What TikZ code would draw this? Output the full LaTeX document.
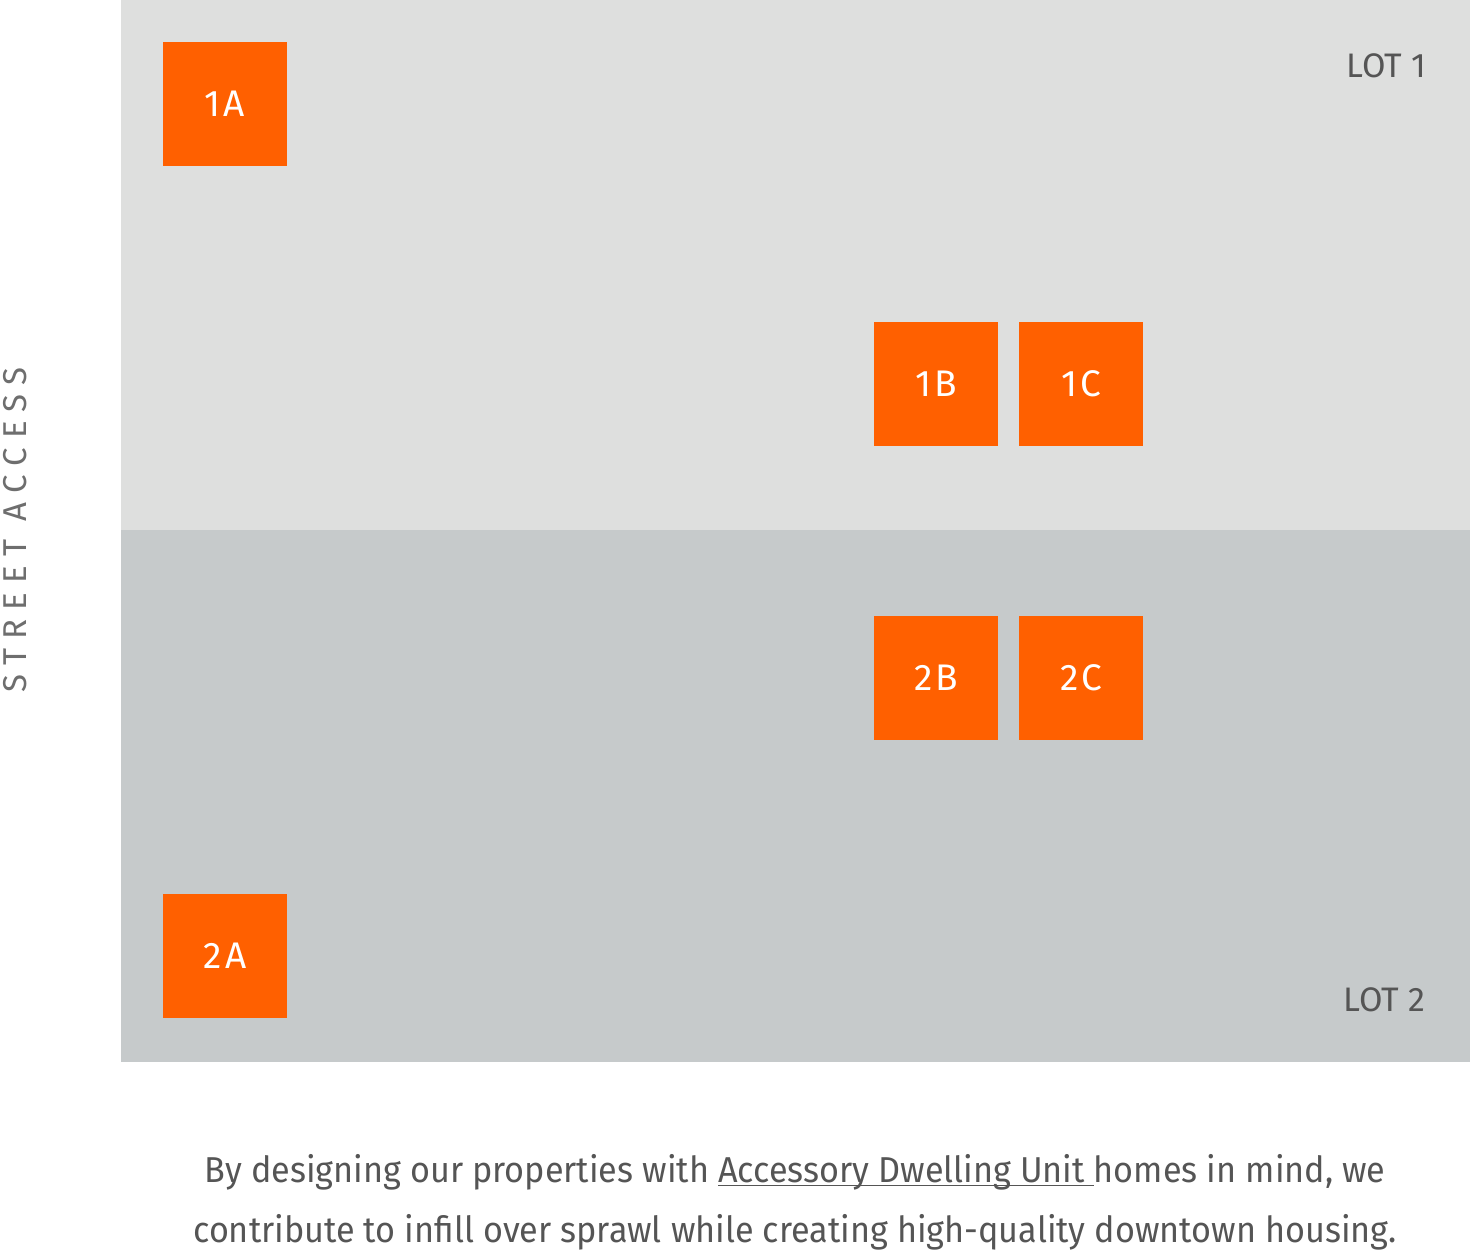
\documentclass[tikz,border=0pt]{standalone}
\usepackage{fontspec}
\setmainfont{Fira Sans}
\newfontfamily\slimfont{Fira Sans}[FakeStretch=0.95]
\definecolor{lotone}{HTML}{DEDFDE}
\definecolor{lottwo}{HTML}{C6CACB}
\definecolor{aduorange}{HTML}{FF6000}
\definecolor{ink}{HTML}{555555}
\definecolor{pale}{HTML}{6E6E6E}
\newcommand{\linkline}[1]{\setbox0\hbox{#1}\rlap{\rule[-2pt]{\wd0}{0.6pt}}\box0}
\tikzset{unit/.style={fill=aduorange, text=white, minimum size=62pt, inner sep=0pt,
    font=\fontsize{18.5}{20}\selectfont\addfontfeature{LetterSpace=8}},
  lotlbl/.style={text=ink, anchor=base east, font=\fontsize{17}{20}\selectfont}}

\begin{document}
\begin{tikzpicture}[x=0.5pt, y=-0.5pt]
  \useasboundingbox (0,0) rectangle (1470,1250);
  \fill[lotone] (121,0) rectangle (1470,530);   \node[lotlbl] (lot1) at (1433,77) {LOT 1};
  \fill[lottwo] (121,530) rectangle (1470,1062); \node[lotlbl] (lot2) at (1432,1011) {LOT 2};
  % units
  \node[unit] (u1a) at (225,104) {1A};
  \node[unit] (u1b) at (936,384) {1B};
  \node[unit] (u1c) at (1081,384) {1C};
  \node[unit] (u2b) at (936,678) {2B};
  \node[unit] (u2c) at (1081,678) {2C};
  \node[unit] (u2a) at (225,956) {2A};
  \node[rotate=90, text=pale, font=\fontsize{16.5}{20}\selectfont\addfontfeature{LetterSpace=28}] (street) at (15,530) {STREET ACCESS};
  \node[anchor=base, align=center, text=ink, font=\slimfont\fontsize{18}{30}\selectfont] (caption) at (795,1242)
    {By designing our properties with \linkline{Accessory Dwelling Unit }homes in mind, we\\
     contribute to infill over sprawl while creating high-quality downtown housing.};
\end{tikzpicture}
\end{document}
